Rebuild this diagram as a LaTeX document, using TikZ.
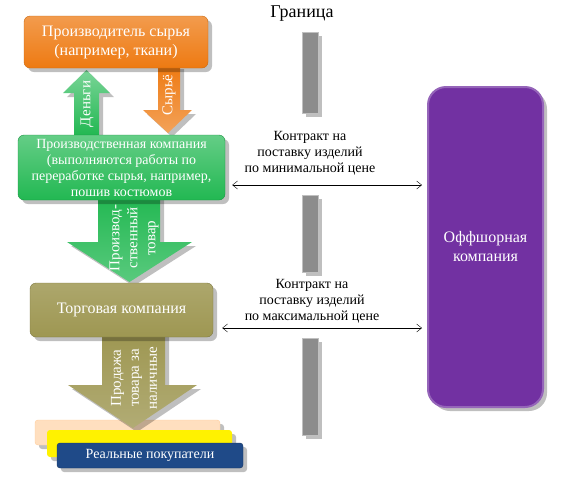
\documentclass[tikz,border=0pt]{standalone}
\usepackage{fontspec}
\setmainfont{Liberation Serif}
\usetikzlibrary{positioning,arrows.meta,calc,shadows}
\definecolor{rawor}{HTML}{EE7A12}
\definecolor{prodgr}{HTML}{22B852}
\definecolor{tradol}{HTML}{9E9752}
\definecolor{offpur}{HTML}{7231A2}
\definecolor{buyblu}{HTML}{1F4A88}
\definecolor{bordgr}{HTML}{8C8C8C}
\tikzset{
  shad/.style    ={drop shadow={shadow xshift=4pt, shadow yshift=-4pt, opacity=0.25, fill=black}},
  card/.style    ={rectangle, rounded corners=6pt, align=center, text=white, shad, inner sep=2pt},
  rawbox/.style  ={card, top color=rawor!75!white, bottom color=rawor, draw=rawor!85!black, font=\fontsize{16}{19}\selectfont},
  prodbox/.style ={card, top color=prodgr!70!white, bottom color=prodgr, draw=prodgr!80!black, font=\fontsize{14}{16}\selectfont},
  tradbox/.style ={card, top color=tradol!85!white, bottom color=tradol, draw=tradol!80!black, font=\fontsize{16}{18}\selectfont},
  offbox/.style  ={card, rounded corners=18pt, fill=offpur, draw=offpur!75!white, line width=2pt, font=\fontsize{16}{19}\selectfont},
  buybar/.style  ={rectangle, rounded corners=3pt, shad},
  border/.style  ={rectangle, fill=bordgr, draw=bordgr!55!white, line width=1pt, shad},
  blkarr/.style  ={shad},
  arrtxt/.style  ={rotate=90, align=center, text=white, font=\fontsize{15}{18}\selectfont},
  note/.style    ={align=center, font=\fontsize{14}{16}\selectfont},
  contract/.style={{Straight Barb[length=5pt,width=8pt]}-{Straight Barb[length=5pt,width=8pt]}, thin},
}

\begin{document}
\begin{tikzpicture}[x=1pt, y=-1pt]
  \useasboundingbox (0,0) rectangle (571,488);

  % lowest buyer bar sits under the sale arrow tip
  \node[buybar, fill=orange!25, draw=orange!40, minimum width=185pt, minimum height=25pt] (bar1) at (127.5,432.5) {};

  % block arrows between the boxes (drawn first, boxes cover their ends)
  \path[blkarr, top color=prodgr!60!white, bottom color=prodgr] (74,135) -- (74,93) -- (63,93) -- (86.5,70) -- (110,93) -- (99,93) -- (99,135) -- cycle;
  \path[blkarr, top color=rawor, bottom color=rawor!70!white]   (158,65) -- (158,110) -- (143,110) -- (168,133) -- (192,110) -- (180,110) -- (180,65) -- cycle;
  \path[blkarr, top color=prodgr, bottom color=prodgr!75!white] (98,195) -- (98,242) -- (67,242) -- (129.5,282) -- (192,242) -- (160,242) -- (160,195) -- cycle;
  \path[blkarr, top color=tradol, bottom color=tradol!80!white] (102,333) -- (102,385) -- (68,385) -- (133,428) -- (197,385) -- (165,385) -- (165,333) -- cycle;

  % boxes
  \node[rawbox, minimum width=184pt, minimum height=52pt] (raw) at (116,42)
    {Производитель сырья\\(например, ткани)};
  \node[prodbox, minimum width=207pt, minimum height=65pt] (prod) at (121.5,167.5)
    {Производственная компания\\(выполняются работы по\\переработке сырья, например,\\пошив костюмов};
  \node[tradbox, minimum width=183pt, minimum height=54pt] (trad) at (121.5,310)
    {Торговая компания};
  \node[offbox, minimum width=115pt, minimum height=320pt] (off) at (485.5,247)
    {Оффшорная\\компания};

  % labels on the block arrows
  \node[arrtxt] (money) at (87,104) {Деньги};
  \node[arrtxt] (stuff) at (169,95) {Сырьё};
  \node[arrtxt] (goods) at (134,238) {Производ-\\ственный\\товар};
  \node[arrtxt] (sale)  at (134,378) {Продажа\\товара за\\наличные};

  % buyers, the other two bars
  \node[buybar, fill=yellow, minimum width=185pt, minimum height=27pt] (bar2) at (139.5,443.5) {};
  \node[buybar, fill=buyblu, draw=buyblu!70!black, text=white, minimum width=186pt, minimum height=25pt,
        font=\fontsize{14}{16}\selectfont] (buy) at (150,455.5) {Реальные покупатели};

  % border
  \node[font=\fontsize{18}{20}\selectfont] (brd) at (302,14) {Граница};
  \node[border, minimum width=16pt, minimum height=81pt] (brd1) at (310,72.5) {};
  \node[border, minimum width=16pt, minimum height=77pt] (brd2) at (310,233.5) {};
  \node[border, minimum width=16pt, minimum height=97pt] (brd3) at (310,386.5) {};

  % contracts
  \node[note] (con1) at (310,153) {Контракт на\\поставку изделий\\по минимальной цене};
  \node[note] (con2) at (312,301) {Контракт на\\поставку изделий\\по максимальной цене};
  \coordinate (k1) at (0,185);
  \coordinate (k2) at (0,328);
  \draw[contract, shorten <=7pt, shorten >=5pt] (prod.east |- k1) -- (off.west |- k1);
  \draw[contract, shorten <=9pt, shorten >=5pt] (trad.east |- k2) -- (off.west |- k2);
\end{tikzpicture}
\end{document}
